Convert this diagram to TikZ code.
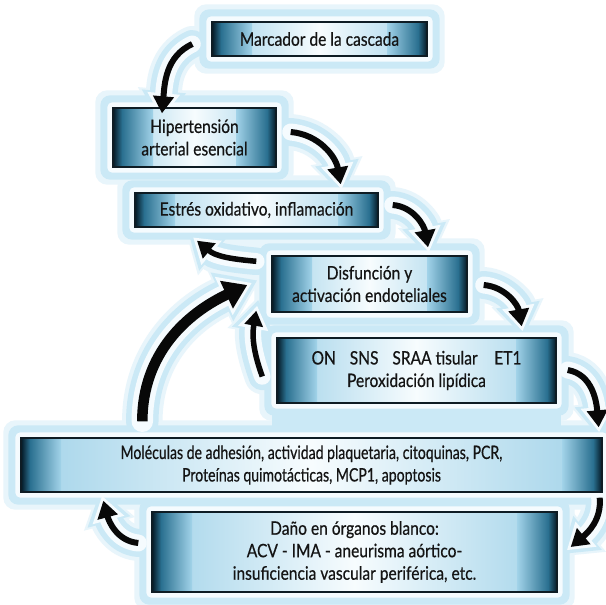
\documentclass[tikz,border=0pt]{standalone}
\usepackage{fontspec}
\setmainfont{Lato}[FakeStretch=0.84,FakeBold=0.5]
\usetikzlibrary{arrows.meta,calc}

% palette
\definecolor{boxdark}{HTML}{041824}
\definecolor{boxteal}{HTML}{2A7090}
\definecolor{boxlight}{HTML}{A2D3E9}
\definecolor{boxwhite}{HTML}{F7FCFE}
\definecolor{boxline}{HTML}{0E1C24}
\definecolor{textcol}{HTML}{141414}
\definecolor{haloblue}{HTML}{CBE9F6}
\definecolor{halofaint}{HTML}{E8F5FB}
\definecolor{halowhite}{HTML}{F5FBFE}
\definecolor{arrowblack}{HTML}{080808}

% glow layers under the drawing
\pgfdeclarelayer{halofar}
\pgfdeclarelayer{haloout}
\pgfdeclarelayer{haloin}
\pgfsetlayers{halofar,haloout,haloin,main}

\newcommand\boxfont{\fontsize{18.5}{22.5}\selectfont}

% light blue glow around a box
\newcommand\boxhalo[1]{%
  \begin{pgfonlayer}{halofar}
    \fill[halofaint, rounded corners=12pt]
      ([shift={(-17pt,-17pt)}]#1.south west) rectangle ([shift={(17pt,17pt)}]#1.north east);
  \end{pgfonlayer}
  \begin{pgfonlayer}{haloout}
    \fill[haloblue, rounded corners=10pt]
      ([shift={(-12pt,-12pt)}]#1.south west) rectangle ([shift={(12pt,12pt)}]#1.north east);
  \end{pgfonlayer}
  \begin{pgfonlayer}{haloin}
    \fill[halowhite, rounded corners=5pt]
      ([shift={(-5pt,-5pt)}]#1.south west) rectangle ([shift={(5pt,5pt)}]#1.north east);
  \end{pgfonlayer}}

% curved black arrow with its glow: #1 line width, #2 head width, #3 head length, #4 path
\newcommand\flow[4]{%
  \pgfmathsetlengthmacro\lwA{#1+22pt}\pgfmathsetlengthmacro\hwA{#2+22pt}\pgfmathsetlengthmacro\hlA{#3+16pt}%
  \pgfmathsetlengthmacro\lwB{#1+11pt}\pgfmathsetlengthmacro\hwB{#2+11pt}\pgfmathsetlengthmacro\hlB{#3+8pt}%
  \pgfmathsetlengthmacro\lwC{#1+30pt}\pgfmathsetlengthmacro\hwC{#2+30pt}\pgfmathsetlengthmacro\hlC{#3+22pt}%
  \begin{pgfonlayer}{halofar}
    \draw[halofaint, line width=\lwC, line cap=round, -{Triangle[width=\hwC,length=\hlC]}, shorten >=-15pt] #4;
  \end{pgfonlayer}
  \begin{pgfonlayer}{haloout}
    \draw[haloblue, line width=\lwA, line cap=round, -{Triangle[width=\hwA,length=\hlA]}, shorten >=-11pt] #4;
  \end{pgfonlayer}
  \begin{pgfonlayer}{haloin}
    \draw[halowhite, line width=\lwB, line cap=round, -{Triangle[width=\hwB,length=\hlB]}, shorten >=-5pt] #4;
  \end{pgfonlayer}
  \draw[arrowblack, line width=#1, -{Triangle[width=#2,length=#3]}] #4;}

\tikzset{
  stage/.style={draw=boxline, line width=1.4pt, inner sep=0pt, align=center,
    text=textcol, font=\boxfont,
    path picture={
      \fill[left color=boxlight, right color=boxlight, middle color=boxwhite]
        (path picture bounding box.south west) rectangle (path picture bounding box.north east);
      \fill[left color=boxdark, right color=boxteal]
        (path picture bounding box.south west) rectangle ([xshift=9pt]path picture bounding box.north west);
      \fill[left color=boxteal, right color=boxlight]
        ([xshift=9pt]path picture bounding box.south west) rectangle ([xshift=40pt]path picture bounding box.north west);
      \fill[left color=boxteal, right color=boxdark]
        ([xshift=-9pt]path picture bounding box.south east) rectangle (path picture bounding box.north east);
      \fill[left color=boxlight, right color=boxteal]
        ([xshift=-40pt]path picture bounding box.south east) rectangle ([xshift=-9pt]path picture bounding box.north east);
    }},
  narrowtext/.style={font=\boxfont\addfontfeature{FakeStretch=0.76,FakeBold=0.5}},
}

\begin{document}
\begin{tikzpicture}[x=1pt,y=1pt]
\begin{pgfonlayer}{halofar}
  \fill[white] (0,0) rectangle (605,605);
\end{pgfonlayer}
\useasboundingbox (0,0) rectangle (605,605);

% stages of the cascade
\node[stage, minimum width=215pt, minimum height=34pt] (b1) at (319.5,566) {Marcador de la cascada};
\node[stage, minimum width=163pt, minimum height=59pt] (b2) at (194.5,467.5) {Hipertensión\\arterial esencial};
\node[stage, minimum width=243pt, minimum height=34pt] (b3) at (256.5,395) {Estrés oxidativo, inflamación};
\node[stage, minimum width=195pt, minimum height=56pt] (b4) at (369.5,321) {Disfunción y\\activación endoteliales};
\node[stage, minimum width=279pt, minimum height=65pt] (b5) at (416.5,234.5) {ON\hspace{0.75em}SNS\hspace{0.75em}SRAA tisular\hspace{0.9em}ET1\\Peroxidación lipídica};
\node[stage, narrowtext, minimum width=581pt, minimum height=54pt] (b6) at (311.5,140) {Moléculas de adhesión, actividad plaquetaria, citoquinas, PCR,\\Proteínas quimotácticas, MCP1, apoptosis};
\node[stage, minimum width=405pt, minimum height=80pt] (b7) at (354.5,53) {Daño en órganos blanco:\\ACV - IMA - aneurisma aórtico-\\insuficiencia vascular periférica, etc.};

\foreach \b in {b1,b2,b3,b4,b5,b6,b7} {\boxhalo{\b}}

% the glow fills the gap under the fifth stage
\begin{pgfonlayer}{haloout}
  \fill[haloblue] ([xshift=-4pt]b5.south west) rectangle ([xshift=4pt]b5.south east |- b6.north);
\end{pgfonlayer}

% connectors
\flow{6pt}{20pt}{17pt}{([shift={(-19pt,-5pt)}]b1.west) to[out=205,in=85] ([shift={(-32.5pt,-6pt)}]b2.north)}
\flow{6pt}{20pt}{17pt}{([shift={(14pt,5.5pt)}]b2.east) to[out=-5,in=100] ([shift={(-38pt,8pt)}]b3.north east)}
\flow{6pt}{20pt}{17pt}{([shift={(14pt,5pt)}]b3.east) to[out=-5,in=100] ([shift={(58.5pt,8pt)}]b4.north)}
\flow{5.5pt}{19pt}{16pt}{([shift={(-15pt,-6pt)}]b4.north west) to[out=175,in=-40] ([shift={(-59.5pt,-13pt)}]b3.south)}
\flow{6pt}{20pt}{17pt}{([shift={(16pt,-1pt)}]b4.east) to[out=-5,in=100] ([shift={(-35pt,11pt)}]b5.north east)}
\flow{6pt}{20pt}{17pt}{([shift={(11pt,0.5pt)}]b5.east) to[out=-10,in=95] ([shift={(-4pt,10pt)}]b6.north east)}
\flow{6pt}{20pt}{17pt}{([shift={(-3pt,-5pt)}]b6.south east) to[out=-85,in=40] ([shift={(13pt,5pt)}]b7.east)}
\flow{6pt}{20pt}{17pt}{([shift={(-13pt,9pt)}]b7.west) to[out=175,in=-75] ([shift={(83pt,-8pt)}]b6.south west)}
\flow{10.5pt}{29pt}{23pt}{([shift={(122pt,16pt)}]b6.north west) to[out=90,in=205] ([shift={(-24pt,-1pt)}]b4.west)}
\flow{5.5pt}{18pt}{15pt}{([shift={(-14pt,-6pt)}]b5.west) to[out=110,in=-100] ([shift={(-15pt,2pt)}]b4.south west)}
\end{tikzpicture}
\end{document}
